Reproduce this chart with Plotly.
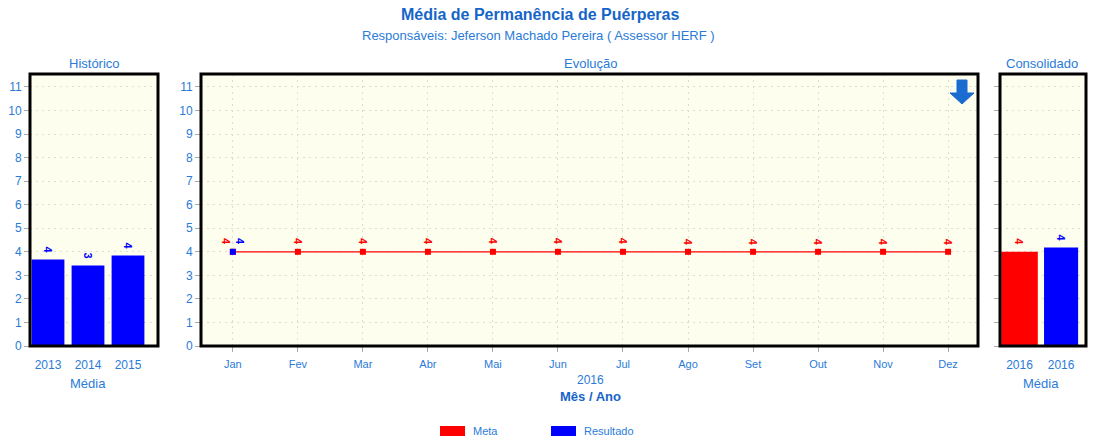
import plotly.graph_objects as go

W, H = 1095, 441

# ---- data ----
hist_years = ["2013", "2014", "2015"]
hist_values = [3.67, 3.42, 3.84]
hist_labels = ["4", "3", "4"]

months = ["Jan", "Fev", "Mar", "Abr", "Mai", "Jun", "Jul", "Ago", "Set", "Out", "Nov", "Dez"]
meta_values = [4, 4, 4, 4, 4, 4, 4, 4, 4, 4, 4, 4]
resultado_values = [4, None, None, None, None, None, None, None, None, None, None, None]

cons_labels = ["2016", "2016"]
cons_meta = 4.0
cons_resultado = 4.18

legend_names = ["Meta", "Resultado"]
legend_colors = ["#ff0000", "#0000ff"]

BLUE_TXT = "#2a7bd8"
TITLE_BLUE = "#1565c8"
FONT = "Liberation Sans, Arial, sans-serif"
BG = "#fefeee"
GRID = "#deded0"


def px(xp):
    return xp / W


def py(yp):
    return 1 - yp / H


dom_y = [py(346), py(74)]
dom_x1 = [px(30), px(158)]
dom_x2 = [px(201), px(978)]
dom_x3 = [px(1000), px(1086)]

fig = go.Figure()

# Histórico
fig.add_trace(go.Bar(x=list(range(len(hist_years))), y=hist_values, marker_color="#0000ff",
                     marker_line_width=0, xaxis="x", yaxis="y", showlegend=False, width=0.82))

# Evolução
idx = list(range(len(months)))
fig.add_trace(go.Scatter(x=idx, y=meta_values, mode="lines+markers", name="Meta",
                         line=dict(color="#ff0000", width=1.2),
                         marker=dict(symbol="square", size=6, color="#ff0000"),
                         xaxis="x2", yaxis="y2", showlegend=False))
fig.add_trace(go.Scatter(x=idx, y=resultado_values, mode="markers", name="Resultado",
                         marker=dict(symbol="square", size=6, color="#0000ff"),
                         xaxis="x2", yaxis="y2", showlegend=False))

# Consolidado
fig.add_trace(go.Bar(x=[0], y=[cons_meta], marker_color="#ff0000", marker_line_width=0,
                     xaxis="x3", yaxis="y3", name="Meta", showlegend=False, width=0.88))
fig.add_trace(go.Bar(x=[1], y=[cons_resultado], marker_color="#0000ff", marker_line_width=0,
                     xaxis="x3", yaxis="y3", name="Resultado", showlegend=False, width=0.82))

annotations = []
lab_font = dict(family=FONT, size=11)


def lab(text, x, y, xr, yr, color, xshift=0):
    return dict(x=x, y=y, xref=xr, yref=yr, text=f"<b>{text}</b>", showarrow=False, textangle=90,
                yshift=10, xshift=xshift, xanchor="center", yanchor="middle",
                font=dict(lab_font, color=color))


for i, (v, t) in enumerate(zip(hist_values, hist_labels)):
    annotations.append(lab(t, i, v, "x", "y", "#0000ff"))
for i, v in enumerate(meta_values):
    annotations.append(lab(str(round(v)), i, v, "x2", "y2", "#ff0000",
                           xshift=-7 if resultado_values[i] is not None else 0))
for i, v in enumerate(resultado_values):
    if v is None:
        continue
    annotations.append(lab(str(round(v)), i, v, "x2", "y2", "#0000ff", xshift=7))
annotations.append(lab(str(round(cons_meta)), 0, cons_meta, "x3", "y3", "#ff0000"))
annotations.append(lab(str(round(cons_resultado)), 1, cons_resultado, "x3", "y3", "#0000ff"))


def ptext(text, x, y, size, color, xanchor="center"):
    return dict(x=px(x), y=py(y), xref="paper", yref="paper", text=text, showarrow=False,
                xanchor=xanchor, yanchor="middle", font=dict(family=FONT, size=size, color=color))


annotations += [
    ptext("<b>Média de Permanência de Puérperas</b>", 540, 14, 16, TITLE_BLUE),
    ptext("Responsáveis: Jeferson Machado Pereira ( Assessor HERF )", 538, 36, 13, BLUE_TXT),
    ptext("Histórico", 94, 64, 13, BLUE_TXT),
    ptext("Evolução", 590, 64, 13, BLUE_TXT),
    ptext("Consolidado", 1042, 64, 13, BLUE_TXT),
    ptext("Média", 88, 383, 13, BLUE_TXT),
    ptext("Média", 1041, 383, 13, BLUE_TXT),
    ptext("2016", 590, 380, 12, BLUE_TXT),
    ptext("<b>Mês / Ano</b>", 590, 396, 13, TITLE_BLUE),
]

shapes = []
for xr in ["x", "x2", "x3"]:
    yr = {"x": "y", "x2": "y2", "x3": "y3"}[xr]
    shapes.append(dict(type="rect", xref=f"{xr} domain", yref=f"{yr} domain", x0=0, x1=1, y0=0, y1=1,
                       line=dict(color="#000000", width=3), layer="above"))

# legend (manual, to match the wide swatches)
leg_x = [440, 551]
for name, color, lx in zip(legend_names, legend_colors, leg_x):
    shapes.append(dict(type="rect", xref="paper", yref="paper", x0=px(lx), x1=px(lx + 25),
                       y0=py(436), y1=py(426), fillcolor=color, line=dict(width=0)))
    annotations.append(ptext(name, lx + 31, 431, 11, BLUE_TXT, xanchor="left"))

# down arrow icon
arrow_pts = [(957, 80), (967, 80), (967, 93), (974, 93), (962, 104), (950, 93), (957, 93)]
path = "M " + " L ".join(f"{px(a):.5f},{py(b):.5f}" for a, b in arrow_pts) + " Z"
shapes.append(dict(type="path", xref="paper", yref="paper", path=path,
                   fillcolor="#1a6cd0", line=dict(color="#1a6cd0", width=1)))

yrange = [0, 11.55]
tickf = dict(family=FONT, size=12, color=BLUE_TXT)
common_y = dict(range=yrange, tickmode="array", tickvals=list(range(12)), showgrid=True,
                gridcolor=GRID, griddash="2px,4px", gridwidth=1, zeroline=False, ticks="outside",
                ticklen=5, tickcolor="#aaaaaa", tickfont=tickf, domain=dom_y, fixedrange=True)

fig.update_layout(
    width=W, height=H, margin=dict(l=0, r=0, t=0, b=0, autoexpand=False),
    paper_bgcolor="white", plot_bgcolor=BG,
    font=dict(family=FONT, color=BLUE_TXT),
    showlegend=False,
    xaxis=dict(domain=dom_x1, range=[-0.45, 2.75], tickmode="array", tickvals=[0, 1, 2],
               ticktext=hist_years, showgrid=False, zeroline=False, tickfont=tickf, ticks="",
               ticklabelstandoff=10, anchor="y"),
    yaxis=dict(common_y, anchor="x"),
    xaxis2=dict(domain=dom_x2, range=[-0.49, 11.46], tickmode="array", tickvals=idx, ticktext=months,
                showgrid=True, gridcolor=GRID, griddash="2px,4px", zeroline=False,
                tickfont=dict(family=FONT, size=11, color=BLUE_TXT), ticks="outside", ticklen=5,
                tickcolor="#aaaaaa", ticklabelstandoff=3, anchor="y2"),
    yaxis2=dict(common_y, anchor="x2"),
    xaxis3=dict(domain=dom_x3, range=[-0.47, 1.6], tickmode="array", tickvals=[0, 1],
                ticktext=cons_labels, showgrid=False, zeroline=False, tickfont=tickf, ticks="",
                ticklabelstandoff=10, anchor="y3"),
    yaxis3=dict(common_y, anchor="x3", showticklabels=False),
    annotations=annotations,
    shapes=shapes,
)

fig.write_html("out.html")
